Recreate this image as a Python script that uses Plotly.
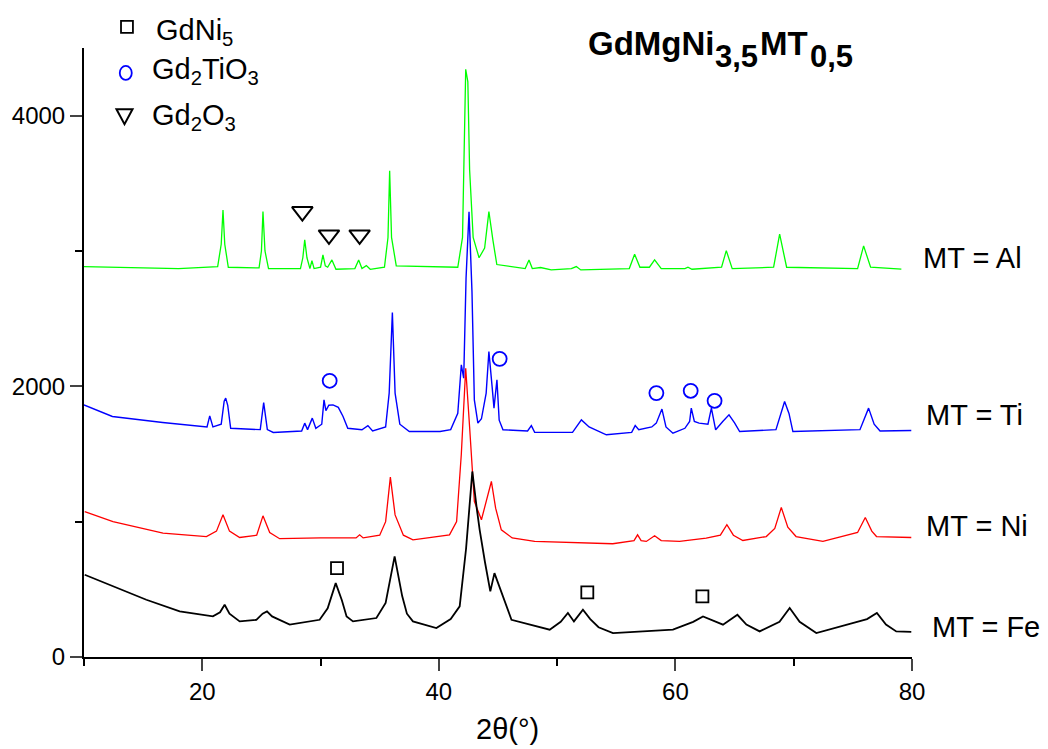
import plotly.graph_objects as go

# ---- data (2theta in degrees, intensity in counts) ----
AL_PATTERN = [(10, 2885), (12, 2880), (15, 2875), (18, 2870), (21.3, 2885), (21.6, 3050), (21.75, 3303),
              (21.9, 3050), (22.2, 2880), (24.8, 2875), (25.0, 3000), (25.13, 3291), (25.3, 3000),
              (25.6, 2870), (28.3, 2870), (28.5, 2950), (28.66, 3082), (28.85, 2950), (29.1, 2870),
              (29.27, 2929), (29.45, 2870), (30.0, 2880), (30.2, 2971), (30.4, 2890), (30.6, 2880),
              (30.96, 2934), (31.3, 2865), (32.9, 2870), (33.22, 2934), (33.5, 2870), (33.87, 2892),
              (34.2, 2865), (35.4, 2880), (35.7, 3100), (35.84, 3592), (36.0, 3100), (36.4, 2890),
              (41.6, 2880), (42.0, 3100), (42.27, 4343), (42.45, 4250), (42.6, 3600), (42.9, 3100),
              (43.4, 2950), (43.87, 3022), (44.23, 3291), (44.57, 3080), (44.9, 2900), (47.3, 2870),
              (47.62, 2934), (47.9, 2870), (48.6, 2878), (49.5, 2860), (51.2, 2870), (51.62, 2885),
              (52.0, 2860), (56.1, 2870), (56.55, 2976), (57.0, 2880), (57.8, 2880), (58.24, 2934),
              (58.8, 2870), (60.8, 2870), (61.06, 2880), (61.4, 2865), (63.9, 2880), (64.3, 3003),
              (64.8, 2870), (68.3, 2880), (68.81, 3124), (69.4, 2880), (75.4, 2870), (75.91, 3038),
              (76.5, 2880), (79.1, 2866)]

TI_PATTERN = [(10, 1863), (12.4, 1777), (16.65, 1733), (20, 1708), (20.4, 1700), (20.63, 1782), (20.9, 1700),
              (21.6, 1720), (21.85, 1890), (21.98, 1913), (22.15, 1860), (22.4, 1690), (24.9, 1680),
              (25.19, 1880), (25.5, 1680), (26, 1659), (28.4, 1670), (28.66, 1728), (28.9, 1680),
              (29.3, 1765), (29.6, 1690), (30.1, 1720), (30.29, 1900), (30.45, 1820), (30.7, 1860),
              (31.05, 1863), (31.5, 1845), (31.9, 1777), (32.3, 1690), (33.5, 1679), (34.0, 1710),
              (34.4, 1670), (35.5, 1700), (35.8, 1950), (36.07, 2545), (36.3, 1950), (36.7, 1720),
              (37.5, 1666), (40.1, 1666), (41.0, 1680), (41.6, 1800), (41.9, 2159), (42.1, 2060),
              (42.3, 2800), (42.55, 3290), (42.8, 2700), (43.0, 1900), (43.3, 1728), (43.6, 1760),
              (44.0, 1950), (44.23, 2257), (44.5, 2000), (44.66, 1839), (44.91, 2048), (45.1, 1750),
              (45.42, 1679), (47.5, 1670), (47.82, 1710), (48.1, 1660), (51.3, 1660), (52.05, 1752),
              (52.7, 1700), (54.16, 1642), (56.3, 1660), (56.6, 1710), (56.9, 1680), (58.0, 1700),
              (58.38, 1728), (58.86, 1832), (59.2, 1700), (59.79, 1654), (60.8, 1690), (61.2, 1740),
              (61.34, 1839), (61.6, 1740), (62.0, 1728), (62.75, 1720), (63.04, 1839), (63.4, 1679),
              (64.0, 1740), (64.53, 1789), (65.0, 1730), (65.43, 1666), (68.5, 1680), (69.23, 1888),
              (69.6, 1800), (69.93, 1666), (75.6, 1680), (76.33, 1839), (76.8, 1720), (77.3, 1670),
              (79.94, 1674)]

NI_PATTERN = [(10.06, 1075), (12.45, 1001), (16.68, 916), (20.35, 890), (21.2, 930), (21.75, 1051),
              (22.3, 930), (23.16, 883), (24.6, 900), (25.13, 1043), (25.7, 920), (26.54, 874), (30, 880),
              (33.0, 880), (33.3, 903), (33.6, 880), (35.0, 900), (35.5, 1000), (35.9, 1329), (36.3, 1050),
              (37.0, 900), (37.81, 866), (40.9, 903), (41.5, 1000), (41.9, 1500), (42.27, 2134),
              (42.6, 1700), (43.0, 1150), (43.6, 1014), (44.0, 1150), (44.44, 1297), (44.8, 1100),
              (45.28, 940), (46.2, 880), (48.1, 854), (54.7, 837), (56.5, 860), (56.8, 903), (57.1, 860),
              (57.54, 854), (58.24, 896), (58.8, 860), (60.35, 854), (62.6, 879), (63.8, 900),
              (64.35, 977), (64.9, 900), (65.7, 861), (67.68, 890), (68.4, 950), (68.95, 1105),
              (69.5, 960), (70.2, 890), (72.47, 854), (75.4, 920), (76.05, 1031), (76.6, 930),
              (77.0, 890), (79.94, 883)]

FE_PATTERN = [(10.06, 608), (12.45, 521), (15.27, 423), (18.09, 337), (20.9, 300), (21.5, 330), (21.89, 386),
              (22.3, 320), (23.16, 263), (24.57, 275), (25.1, 320), (25.47, 337), (25.9, 300), (27.39, 239),
              (29.92, 275), (30.6, 360), (31.28, 546), (31.8, 420), (32.2, 300), (32.74, 263), (34.72, 288),
              (35.5, 400), (36.26, 743), (36.9, 450), (37.3, 320), (37.81, 263), (39.79, 214), (41.0, 280),
              (41.76, 374), (42.3, 800), (42.83, 1371), (43.2, 1100), (43.45, 940), (43.9, 700),
              (44.35, 485), (44.7, 620), (45.2, 500), (46.14, 275), (49.37, 202), (50.3, 260),
              (50.91, 325), (51.42, 263), (52.18, 349), (52.8, 280), (53.5, 220), (54.72, 177),
              (59.79, 202), (61.5, 260), (62.33, 300), (63.2, 270), (64.02, 239), (65.24, 312),
              (66.0, 240), (67.12, 189), (68.8, 260), (69.66, 362), (70.5, 260), (71.91, 177),
              (75.0, 251), (76.2, 280), (77.03, 325), (77.8, 240), (78.67, 189), (79.94, 185)]

SERIES_NAMES = ["MT = Al", "MT = Ti", "MT = Ni", "MT = Fe"]
SERIES_COLORS = ["#00FF00", "#0000FF", "#FF0000", "#000000"]
SERIES_WIDTHS = [1.3, 1.4, 1.3, 1.8]
SERIES_LABEL_Y = [2950, 1790, 970, 225]
SERIES_LABEL_X = [1.011, 1.0145, 1.0145, 1.022]

# phase markers
GD2O3_X = [28.46, 30.71, 33.3]
GD2O3_Y = [3291, 3119, 3119]
GD2TIO3_X = [30.77, 45.14, 58.39, 61.29, 63.31]
GD2TIO3_Y = [2041, 2203, 1950, 1967, 1893]
GDNI5_X = [31.39, 52.55, 62.28]
GDNI5_Y = [657, 477, 448]

LEGEND_LABELS = ["GdNi<sub>5</sub>", "Gd<sub>2</sub>TiO<sub>3</sub>", "Gd<sub>2</sub>O<sub>3</sub>"]
LEGEND_TEXT_X = [0.085, 0.080, 0.080]
LEGEND_TEXT_Y = [1.026, 0.962, 0.887]

# title pieces: text, font size, x shift (px), y shift (px)
TITLE_PARTS = [("GdMgNi", 33, 0, 0), ("3,5", 31, 127, -13), ("MT", 33, 172, 0), ("0,5", 31, 222, -13)]

X_TICKS = [20, 40, 60, 80]
Y_TICKS = [0, 2000, 4000]

FONT = "Arial, 'Liberation Sans', sans-serif"

fig = go.Figure()
for pat, name, col, w in zip([AL_PATTERN, TI_PATTERN, NI_PATTERN, FE_PATTERN], SERIES_NAMES,
                             SERIES_COLORS, SERIES_WIDTHS):
    xs, ys = zip(*pat)
    fig.add_trace(go.Scatter(x=list(xs), y=list(ys), mode="lines", name=name,
                             line=dict(color=col, width=w), showlegend=False))

fig.add_trace(go.Scatter(x=GD2O3_X, y=GD2O3_Y, mode="markers", showlegend=False,
                         marker=dict(symbol="triangle-down-open", size=18, color="black",
                                     line=dict(width=2, color="black"))))
fig.add_trace(go.Scatter(x=GD2TIO3_X, y=GD2TIO3_Y, mode="markers", showlegend=False,
                         marker=dict(symbol="circle-open", size=14, color="#0000FF",
                                     line=dict(width=1.8, color="#0000FF"))))
fig.add_trace(go.Scatter(x=GDNI5_X, y=GDNI5_Y, mode="markers", showlegend=False,
                         marker=dict(symbol="square-open", size=12, color="black",
                                     line=dict(width=1.8, color="black"))))

# hand-made legend symbols (paper coordinates, above/inside the top of the plot)
fig.add_shape(type="rect", xref="paper", yref="paper", x0=0.0447, x1=0.0591, y0=1.0247, y1=1.0444,
              line=dict(color="black", width=1.8))
fig.add_shape(type="circle", xref="paper", yref="paper", x0=0.0432, x1=0.0577, y0=0.9475, y1=0.9705,
              line=dict(color="#0000FF", width=1.8))
fig.add_shape(type="path", xref="paper", yref="paper",
              path="M 0.0392 0.8995 L 0.0586 0.8995 L 0.0489 0.8749 Z",
              line=dict(color="black", width=2))
for lab, lx, ly in zip(LEGEND_LABELS, LEGEND_TEXT_X, LEGEND_TEXT_Y):
    fig.add_annotation(x=lx, y=ly, xref="paper", yref="paper", text=lab, showarrow=False,
                       xanchor="left", yanchor="middle", font=dict(size=29, color="black", family=FONT))

for name, lx, ly in zip(SERIES_NAMES, SERIES_LABEL_X, SERIES_LABEL_Y):
    fig.add_annotation(x=lx, y=ly, xref="paper", yref="y", text=name, showarrow=False,
                       xanchor="left", yanchor="middle", font=dict(size=29, color="black", family=FONT))

for txt, fs, dx, dy in TITLE_PARTS:
    fig.add_annotation(x=0.606, y=1.0066, xref="paper", yref="paper", text="<b>" + txt + "</b>",
                       showarrow=False, xanchor="left", yanchor="middle", xshift=dx, yshift=dy,
                       font=dict(size=fs, color="black", family=FONT))

# x-axis title
fig.add_annotation(x=0.511, y=-0.119, xref="paper", yref="paper", text="2θ(°)", showarrow=False,
                   xanchor="center", yanchor="middle", font=dict(size=29, color="black", family=FONT))

fig.update_layout(
    width=1048, height=749,
    margin=dict(l=84, r=136, t=48, b=92),
    paper_bgcolor="white", plot_bgcolor="white",
    font=dict(family=FONT, color="black"),
)
fig.update_xaxes(range=[10, 80], tickvals=X_TICKS, ticks="outside", ticklen=12, tickwidth=2,
                 showline=True, linewidth=2, linecolor="black", showgrid=False, zeroline=False,
                 tickfont=dict(size=24, family=FONT), automargin=False,
                 minor=dict(tickvals=[10, 30, 50, 70], ticks="outside", ticklen=7, tickwidth=2,
                            tickcolor="black", showgrid=False))
fig.update_yaxes(range=[0, 4500], tickvals=Y_TICKS, ticks="outside", ticklen=12, tickwidth=2,
                 showline=True, linewidth=2, linecolor="black", showgrid=False, zeroline=False,
                 tickfont=dict(size=24, family=FONT), automargin=False,
                 minor=dict(tickvals=[1000, 3000], ticks="outside", ticklen=7, tickwidth=2,
                            tickcolor="black", showgrid=False))

fig.write_html("out.html", config={"displayModeBar": False},
               post_script="document.body.style.margin='0';")
